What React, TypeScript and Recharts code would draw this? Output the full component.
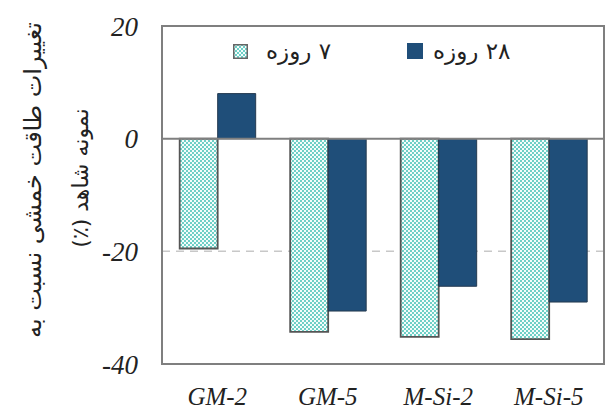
import { BarChart, Bar, XAxis, YAxis, CartesianGrid, ReferenceLine, ReferenceArea, Legend } from 'recharts';

const categories = ['GM-2', 'GM-5', 'M-Si-2', 'M-Si-5'];
const day7 = [-19.5, -34.3, -35.2, -35.6];
const day28 = [8, -30.6, -26.2, -29];
const seriesNames = ['۷ روزه', '۲۸ روزه'];
const yTicks = [-40, -20, 0, 20];
const yLabelLines = ['تغییرات طاقت خمشی نسبت به', 'نمونه شاهد (٪)'];

const data = categories.map((name, i) => ({ name, day7: day7[i], day28: day28[i] }));

const NAVY = '#1f4e79';
const BORDER = '#7f7f7f';
const PERSIAN_FONT = '"DejaVu Sans", sans-serif';
const TICK_FONT = '"Liberation Serif", "Times New Roman", serif';

// small teal dots, like the spreadsheet fill of the 7-day bars
const DotPattern = ({ id }: { id: string }) => (
  <pattern id={id} width={4} height={4} patternUnits="userSpaceOnUse">
    <rect width={4} height={4} fill="#f4fcfb" />
    <circle cx={1} cy={1} r={0.95} fill="#33bdb0" />
    <circle cx={3} cy={3} r={0.95} fill="#33bdb0" />
  </pattern>
);

const renderLegend = () => (
  <div style={{ position: 'relative', height: 28, fontFamily: PERSIAN_FONT, fontSize: 23, color: '#222' }}>
    <div style={{ position: 'absolute', left: 0, top: 0, display: 'flex', alignItems: 'center' }}>
      <svg width={15} height={15}>
        <defs>
          <DotPattern id="dotsLegend" />
        </defs>
        <rect x={0.75} y={0.75} width={13.5} height={13.5} fill="url(#dotsLegend)" stroke="#666" strokeWidth={1.5} />
      </svg>
      <span dir="rtl" style={{ marginLeft: 18 }}>{seriesNames[0]}</span>
    </div>
    <div style={{ position: 'absolute', left: 174, top: 0, display: 'flex', alignItems: 'center' }}>
      <svg width={16} height={16}>
        <rect x={0} y={0} width={16} height={16} fill={NAVY} />
      </svg>
      <span dir="rtl" style={{ marginLeft: 10 }}>{seriesNames[1]}</span>
    </div>
  </div>
);

const renderYLabel = () => (
  <g fontFamily={PERSIAN_FONT} fill="#222">
    <text x={33} y={180} fontSize={24} transform="rotate(-90, 33, 180)" textAnchor="middle" dominantBaseline="central" direction="rtl">
      {yLabelLines[0]}
    </text>
    <text x={80} y={178} fontSize={22} transform="rotate(-90, 80, 178)" textAnchor="middle" dominantBaseline="central" direction="rtl">
      {yLabelLines[1]}
    </text>
  </g>
);

export default function App() {
  return (
    <div style={{ position: 'absolute', left: 0, top: 0, width: 609, height: 410, background: '#fff' }}>
      <BarChart
        width={609}
        height={410}
        data={data}
        margin={{ top: 26, right: 5, bottom: 0, left: 0 }}
        barCategoryGap="16%"
        barGap={0}
      >
        <defs>
          <DotPattern id="dots" />
        </defs>
        <CartesianGrid vertical={false} horizontalValues={[-20]} stroke="#c8c8c8" strokeWidth={1.5} strokeDasharray="8 6" />
        <XAxis
          dataKey="name"
          height={46}
          axisLine={false}
          tickLine={false}
          tickMargin={17}
          interval={0}
          tick={{ fontFamily: TICK_FONT, fontStyle: 'italic', fontSize: 25, fill: '#222' }}
        />
        <YAxis
          width={162}
          domain={[-40, 20]}
          ticks={yTicks}
          axisLine={false}
          tickLine={false}
          tickMargin={18}
          tick={{ fontFamily: TICK_FONT, fontStyle: 'italic', fontSize: 27, fill: '#222' }}
          label={renderYLabel}
        />
        <Legend
          layout="horizontal"
          verticalAlign="middle"
          align="center"
          wrapperStyle={{ top: 38, left: 233, width: 330 }}
          content={renderLegend}
        />
        <ReferenceArea y1={-40} y2={20} fill="none" stroke={BORDER} strokeWidth={2} />
        <Bar dataKey="day7" name={seriesNames[0]} fill="url(#dots)" stroke="#555" strokeWidth={1.8} isAnimationActive={false} />
        <Bar dataKey="day28" name={seriesNames[1]} fill={NAVY} stroke="#253a50" strokeWidth={1} isAnimationActive={false} />
        <ReferenceLine y={0} stroke={BORDER} strokeWidth={2} />
      </BarChart>
    </div>
  );
}
